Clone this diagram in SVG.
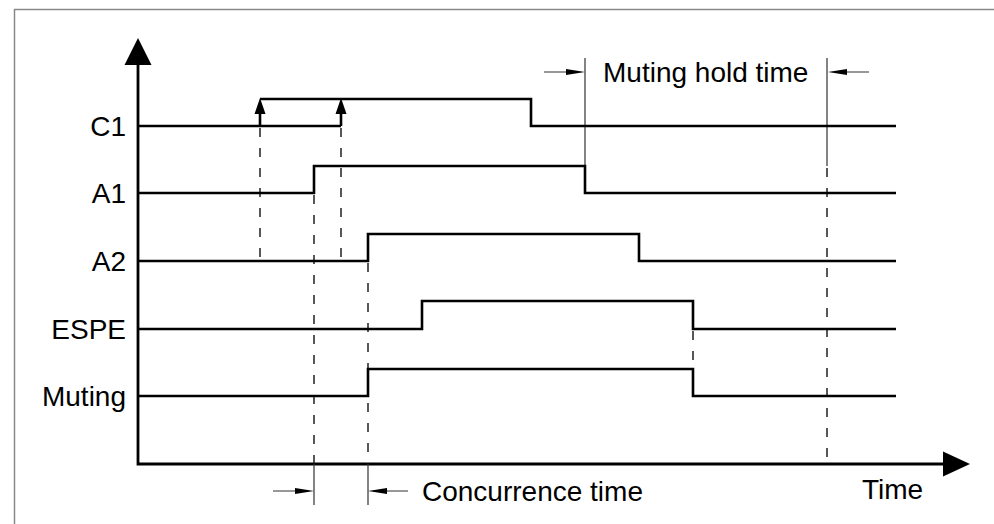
<svg xmlns="http://www.w3.org/2000/svg" width="994" height="524" viewBox="0 0 994 524">
  <style>
    .sig { fill: none; stroke: #000; stroke-width: 2.6; stroke-linejoin: miter; }
    .axis { fill: none; stroke: #000; stroke-width: 2.8; }
    .dash { fill: none; stroke: #111; stroke-width: 1.4; stroke-dasharray: 9 11; }
    .dim { fill: none; stroke: #333; stroke-width: 1.2; }
    .head { fill: #000; stroke: none; }
    .lbl { font-family: "Liberation Sans", Arial, sans-serif; font-size: 28px; fill: #000; }
  </style>
  <rect x="0" y="0" width="994" height="524" fill="#fff"/>
  <rect x="14.5" y="9.5" width="1000" height="600" fill="none" stroke="#888" stroke-width="1.5"/>

  <g id="axes">
    <path class="axis" d="M138,62 V464 H946"/>
    <polygon class="head" points="138,38 124.5,65 151.5,65"/>
    <polygon class="head" points="970,464 943,451.5 943,476.5"/>
    <text class="lbl" x="862" y="499">Time</text>
  </g>

  <g id="connectors">
    <path class="dash" d="M260,128 V261 M341,128 V261 M314,195 V464 M368,263 V464 M693,331 V396 M827,168 V464"/>
    <path class="dim" d="M585,58 V193 M827,58 V166 M314,464 V505 M368,464 V505"/>
    <path class="dim" d="M544,72 H570 M846,72 H869 M273,491 H298 M384,491 H408"/>
    <polygon class="head" points="585,72 566,69 566,75"/>
    <polygon class="head" points="828,72 847,69 847,75"/>
    <polygon class="head" points="314,491 295,488 295,494"/>
    <polygon class="head" points="368,491 387,488 387,494"/>
  </g>

  <g id="C1">
    <text class="lbl" x="126" y="136" text-anchor="end">C1</text>
    <path class="sig" d="M138,126 H341"/>
    <path class="sig" d="M260,99 H531 V126 H896"/>
    <path class="sig" d="M260,126 V112 M341,126 V112"/>
    <polygon class="head" points="260,98 254.5,114 265.5,114"/>
    <polygon class="head" points="341,98 335.5,114 346.5,114"/>
  </g>

  <g id="A1">
    <text class="lbl" x="126" y="203" text-anchor="end">A1</text>
    <path class="sig" d="M138,193 H314 V166 H585 V193 H896"/>
  </g>

  <g id="A2">
    <text class="lbl" x="126" y="271" text-anchor="end">A2</text>
    <path class="sig" d="M138,261 H368 V234 H639 V261 H896"/>
  </g>

  <g id="ESPE">
    <text class="lbl" x="126" y="339" text-anchor="end">ESPE</text>
    <path class="sig" d="M138,329 H422 V301 H693 V329 H896"/>
  </g>

  <g id="Muting">
    <text class="lbl" x="126" y="406" text-anchor="end">Muting</text>
    <path class="sig" d="M138,396 H368 V369 H693 V396 H896"/>
  </g>

  <g id="muting-hold-time">
    <text class="lbl" x="603" y="82">Muting hold time</text>
  </g>

  <g id="concurrence-time">
    <text class="lbl" x="422" y="501">Concurrence time</text>
  </g>
</svg>
